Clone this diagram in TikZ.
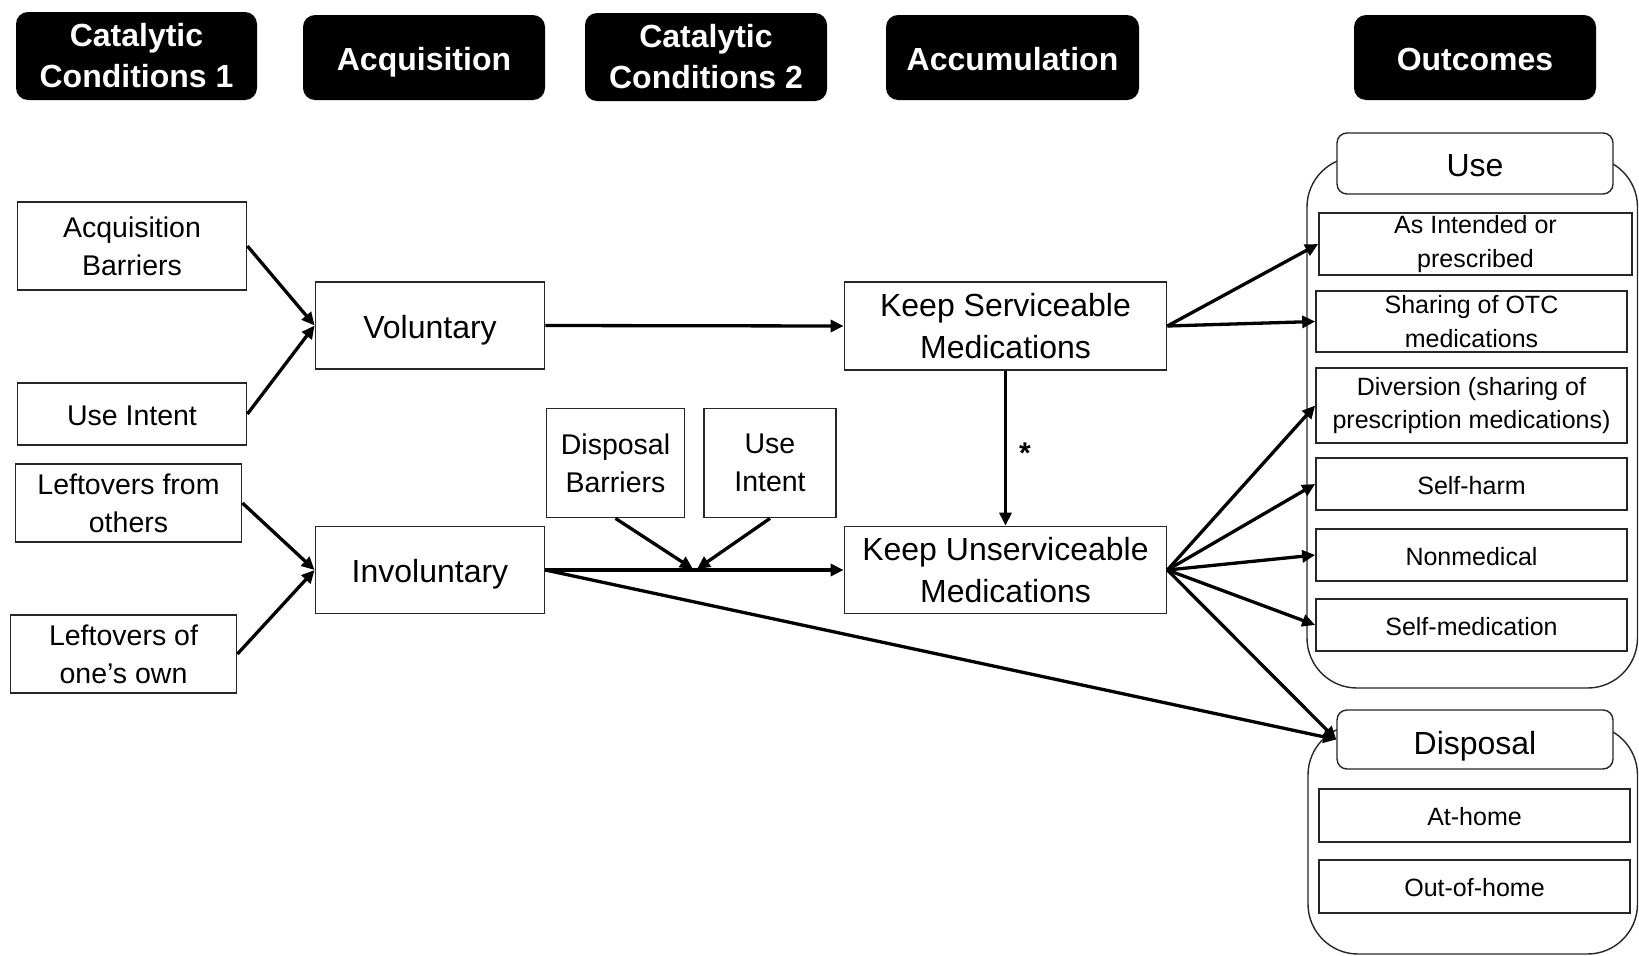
\documentclass[tikz,border=0pt]{standalone}
\usepackage{fontspec}
\setmainfont{Liberation Sans}
\usetikzlibrary{arrows.meta}
\begin{document}
\begin{tikzpicture}[x=1pt,y=-1pt,
  hdr/.style={fill=black, rounded corners=12pt, text=white, inner sep=0pt, align=center,
    font=\bfseries\fontsize{32}{41}\selectfont},
  box/.style={draw=black!85, line width=1.8pt, fill=white, inner sep=0pt, align=center, text=black},
  mainbox/.style={box, font=\fontsize{32}{42.5}\selectfont},
  sidebox/.style={box, font=\fontsize{28.5}{38}\selectfont},
  outbox/.style={box, line width=1.6pt, font=\fontsize{25}{33.5}\selectfont},
  titlebox/.style={box, line width=1.4pt, rounded corners=10pt, font=\fontsize{32}{40}\selectfont},
  % single-line text set on a fixed line box of the given font size
  oneline/.style={text height=#1pt, text depth=0.2*#1pt},
  group/.style={draw=black!85, line width=1.4pt, rounded corners=50pt},
  flow/.style={draw=black, line width=3.3pt, -{Triangle[length=13pt,width=12pt]}},
]
\useasboundingbox (0,0) rectangle (1639,956);

% column headers
\node[hdr, minimum width=241pt, minimum height=88pt] (h1) at (136.5,56) {Catalytic\\Conditions 1};
\node[hdr, oneline=32, minimum width=242pt, minimum height=85pt] (h2) at (424,57.5) {Acquisition};
\node[hdr, minimum width=242pt, minimum height=88pt] (h3) at (706,57) {Catalytic\\Conditions 2};
\node[hdr, oneline=32, minimum width=253pt, minimum height=85pt] (h4) at (1012.5,57.5) {Accumulation};
\node[hdr, oneline=32, minimum width=242pt, minimum height=85pt] (h5) at (1475,57.5) {Outcomes};

% catalytic conditions 1
\node[sidebox, minimum width=229pt, minimum height=88pt] (acqbar) at (132,246) {Acquisition\\Barriers};
\node[sidebox, oneline=28.5, minimum width=229pt, minimum height=62pt] (useintl) at (132,414) {Use Intent};
\node[sidebox, minimum width=226pt, minimum height=78pt] (leftoth) at (128.5,503) {Leftovers from\\others};
\node[sidebox, minimum width=226pt, minimum height=78pt] (leftown) at (123.5,654) {Leftovers of\\one’s own};

% acquisition
\node[mainbox, oneline=32, minimum width=229pt, minimum height=87pt] (vol) at (430,325.5) {Voluntary};
\node[mainbox, oneline=32, minimum width=229pt, minimum height=87pt] (invol) at (430,570) {Involuntary};

% catalytic conditions 2
\node[sidebox, minimum width=138pt, minimum height=109pt] (dispbar) at (615.5,463) {Disposal\\Barriers};
\node[sidebox, minimum width=132pt, minimum height=109pt] (useintm) at (770,463) {Use\\Intent};

% accumulation
\node[mainbox, minimum width=322pt, minimum height=88pt] (keepserv) at (1005.5,326) {Keep Serviceable\\Medications};
\node[mainbox, minimum width=322pt, minimum height=87pt] (keepunserv) at (1005.5,570) {Keep Unserviceable\\Medications};
\node[font=\bfseries\fontsize{30}{30}\selectfont, inner sep=0pt] (star) at (1025,453) {*};

% outcomes: use
\draw[group] (1307,157) rectangle (1637.5,688);
\node[titlebox, oneline=32, minimum width=276pt, minimum height=61pt] (usetitle) at (1475,163.5) {Use};
\node[outbox, minimum width=313pt, minimum height=62pt] (asint) at (1475.5,244) {As Intended or\\prescribed};
\node[outbox, minimum width=311pt, minimum height=61pt] (sharing) at (1471.5,321.5) {Sharing of OTC\\medications};
\node[outbox, minimum width=311pt, minimum height=75pt] (diversion) at (1471.5,405.5) {Diversion (sharing of\\prescription medications)};
\node[outbox, oneline=25, minimum width=311pt, minimum height=52pt] (selfharm) at (1471.5,484) {Self-harm};
\node[outbox, oneline=25, minimum width=311pt, minimum height=52pt] (nonmed) at (1471.5,555) {Nonmedical};
\node[outbox, oneline=25, minimum width=311pt, minimum height=52pt] (selfmed) at (1471.5,625) {Self-medication};

% outcomes: disposal
\draw[group] (1308,725) rectangle (1637.5,954);
\node[titlebox, oneline=32, minimum width=276pt, minimum height=59pt] (disptitle) at (1475,739.5) {\raisebox{-2pt}{Disposal}};
\node[outbox, oneline=25, minimum width=311pt, minimum height=53pt] (athome) at (1474.5,815.5) {At-home};
\node[outbox, oneline=25, minimum width=311pt, minimum height=53pt] (outhome) at (1474.5,886.5) {Out-of-home};

% meeting points of the moderating arrows
\coordinate (meetl) at (693,569);
\coordinate (meetr) at (697,569);

% connectors
\draw[flow] (acqbar.east) -- (vol.west);
\draw[flow] (useintl.east) -- (vol.west);
\draw[flow] (leftoth.east) -- (invol.west);
\draw[flow] (leftown.east) -- (invol.west);
\draw[flow] (vol.east) -- (keepserv.west);
\draw[flow] (invol.east) -- (keepunserv.west);
\draw[flow] (dispbar.south) -- (meetl);
\draw[flow] (useintm.south) -- (meetr);
\draw[flow] (invol.east) -- (disptitle.west);
\draw[flow] (keepserv.south) -- (keepunserv.north);
\draw[flow] (keepserv.east) -- (asint.west);
\draw[flow] (keepserv.east) -- (sharing.west);
\draw[flow] (keepunserv.east) -- (diversion.west);
\draw[flow] (keepunserv.east) -- (selfharm.west);
\draw[flow] (keepunserv.east) -- (nonmed.west);
\draw[flow] (keepunserv.east) -- (selfmed.west);
\draw[flow] (keepunserv.east) -- (disptitle.west);
\end{tikzpicture}
\end{document}
